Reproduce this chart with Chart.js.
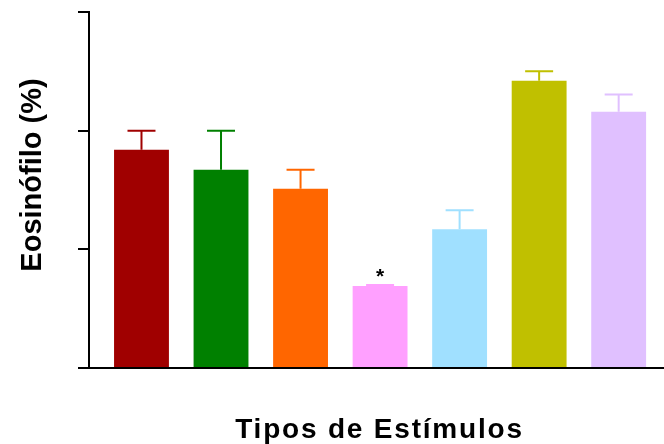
<!DOCTYPE html>
<html>
<head>
<meta charset="utf-8">
<script src="https://cdn.jsdelivr.net/npm/chart.js@4/dist/chart.umd.min.js"></script>
<style>
  html, body { margin: 0; padding: 0; background: #fff; }
  #wrap { width: 664px; height: 444px; }
</style>
</head>
<body>
<div id="wrap"><canvas id="c"></canvas></div>
<script>
// Stimulus groups, in plotting order
const categories = ['Grupo 1', 'Grupo 2', 'Grupo 3', 'Grupo 4', 'Grupo 5', 'Grupo 6', 'Grupo 7'];
// Mean eosinophil percentage per group
const means = [1.84, 1.67, 1.51, 0.69, 1.17, 2.42, 2.16];
// Standard error (upper bar only)
const errors = [0.16, 0.33, 0.16, 0.01, 0.16, 0.08, 0.145];
// Groups flagged as significant
const significant = [false, false, false, true, false, false, false];
// Y axis tick values (labels hidden)
const yTicks = [0, 1, 2, 3];

const xTitle = 'Tipos de Estímulos';
const yTitle = 'Eosinófilo (%)';
const colors = ['#A00000', '#008000', '#FF6600', '#FFA0FF', '#A0E0FF', '#C0C000', '#E0C0FF'];
const fontFamily = '"Liberation Sans", Arial, sans-serif';

// Upper error bars and significance marks
const errorBarPlugin = {
  id: 'errorBars',
  afterDatasetsDraw(chart) {
    const ctx = chart.ctx;
    const xs = chart.scales.x, ys = chart.scales.y;
    ctx.save();
    means.forEach((m, i) => {
      const cx = xs.getPixelForValue(i);
      const yTop = ys.getPixelForValue(m);
      const yErr = ys.getPixelForValue(m + errors[i]);
      ctx.strokeStyle = colors[i];
      ctx.lineWidth = 2;
      ctx.beginPath();
      ctx.moveTo(cx, yTop);
      ctx.lineTo(cx, yErr);
      ctx.moveTo(cx - 14, yErr);
      ctx.lineTo(cx + 14, yErr);
      ctx.stroke();
      if (significant[i]) {
        ctx.fillStyle = '#000';
        ctx.font = 'bold 21px ' + fontFamily;
        ctx.textAlign = 'center';
        ctx.textBaseline = 'middle';
        ctx.fillText('*', cx, yErr - 8);
      }
    });
    ctx.restore();
  }
};

// Axis titles, drawn with a little tracking on the horizontal one
const axisTitlePlugin = {
  id: 'axisTitles',
  afterDraw(chart) {
    const ctx = chart.ctx;
    const area = chart.chartArea;
    ctx.save();
    ctx.fillStyle = '#000';
    ctx.textAlign = 'center';
    ctx.textBaseline = 'alphabetic';
    ctx.font = 'bold 28px ' + fontFamily;
    ctx.letterSpacing = '1.8px';
    ctx.fillText(xTitle, (area.left + area.right) / 2 + 3, area.bottom + 70);
    ctx.letterSpacing = '0px';
    ctx.font = 'bold 29px ' + fontFamily;
    ctx.translate(41, (area.top + area.bottom) / 2 - 15);
    ctx.rotate(-Math.PI / 2);
    ctx.fillText(yTitle, 0, 0);
    ctx.restore();
  }
};

new Chart(document.getElementById('c'), {
  type: 'bar',
  data: {
    labels: categories,
    datasets: [{
      data: means.map((v, i) => ({ x: i, y: v })),
      backgroundColor: colors,
      borderWidth: 0,
      categoryPercentage: 1,
      barPercentage: 0.69
    }]
  },
  options: {
    responsive: true,
    maintainAspectRatio: false,
    animation: false,
    layout: { padding: { top: 12, right: 0, left: 0, bottom: 0 } },
    plugins: { legend: { display: false }, tooltip: { enabled: false } },
    scales: {
      x: {
        type: 'linear',
        offset: false,
        min: -0.66,
        max: 6.57,
        afterBuildTicks(scale) { scale.ticks = categories.map((c, i) => ({ value: i })); },
        ticks: { display: false },
        grid: { display: false, drawTicks: false },
        border: { display: true, color: '#000', width: 2 },
        afterFit(scale) { scale.height = 76; }
      },
      y: {
        min: 0,
        max: 3,
        afterBuildTicks(scale) { scale.ticks = yTicks.map(v => ({ value: v })); },
        ticks: { display: false },
        grid: { display: true, drawOnChartArea: false, drawTicks: true, tickLength: 11, color: '#000', lineWidth: 2 },
        border: { display: true, color: '#000', width: 2 },
        afterFit(scale) { scale.width = 89; }
      }
    }
  },
  plugins: [errorBarPlugin, axisTitlePlugin]
});
</script>
</body>
</html>
